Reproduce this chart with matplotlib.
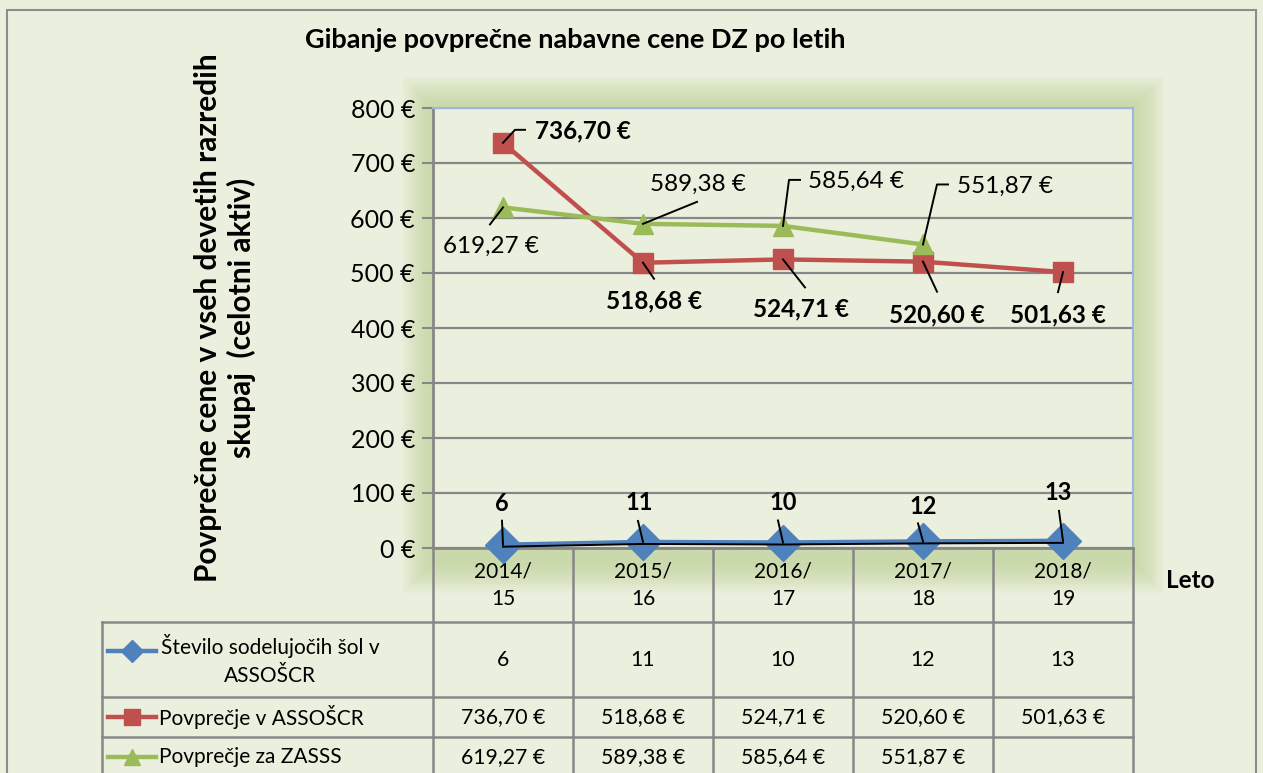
import matplotlib
matplotlib.use('Agg')
import matplotlib.pyplot as plt
from matplotlib.lines import Line2D
from matplotlib.patches import Rectangle
from matplotlib import transforms

plt.rcParams['font.family'] = ['Lato', 'DejaVu Sans']

years = ['2014/\n15', '2015/\n16', '2016/\n17', '2017/\n18', '2018/\n19']
schools = [6, 11, 10, 12, 13]
avg_assoscr = [736.70, 518.68, 524.71, 520.60, 501.63]
avg_zasss = [619.27, 589.38, 585.64, 551.87]

row_names = ['Število sodelujočih šol v\nASSOŠCR', 'Povprečje v ASSOŠCR', 'Povprečje za ZASSS']

title = 'Gibanje povprečne nabavne cene DZ po letih'
ylabel = 'Povprečne cene v vseh devetih razredih\nskupaj  (celotni aktiv)'
xlabel = 'Leto'

BG = '#EBF0DE'
GLOW = '#BFD398'
GRID = '#878787'
BLUE = '#4F81BD'
RED = '#C0504D'
GREEN = '#9BBB59'

W, H = 1263, 773


def eur(v):
    return f'{v:.2f}'.replace('.', ',') + ' €'


def fx(px):
    return px / W


def fy(py):
    return 1 - py / H


fig = plt.figure(figsize=(W / 100, H / 100), dpi=100, facecolor=BG)
ax = fig.add_axes([fx(433), fy(548), fx(1133) - fx(433), fy(108) - fy(548)])
ax.set_facecolor(BG)

# outer chart border
fig.add_artist(Rectangle((fx(7), fy(800)), fx(1256) - fx(7), fy(10) - fy(800),
                         transform=fig.transFigure, fill=False, ec='#8C8C8C', lw=1.5, zorder=0))

# soft glow round the plot area
for k in range(14):
    d = 2.2 * (k + 1)
    fig.add_artist(Rectangle((fx(433 - d), fy(562 + d)), fx(1133 + d) - fx(433 - d),
                             fy(108 - d) - fy(562 + d), transform=fig.transFigure,
                             fc=GLOW, ec='none', alpha=0.075, zorder=-5))

x = list(range(len(years)))
ax.plot(x, avg_assoscr, color=RED, lw=3.2, marker='s', ms=14.5, zorder=4)
ax.plot(x[:len(avg_zasss)], avg_zasss, color=GREEN, lw=3.2, marker='^', ms=15, zorder=4)
ax.plot(x, schools, color=BLUE, lw=3.2, marker='D', ms=18, zorder=5, clip_on=False)
# excel leader artefact along the blue line
shift = transforms.offset_copy(ax.transData, fig=fig, x=0, y=-2, units='dots')
ax.plot(x, schools, color='black', lw=1.4, transform=shift, zorder=6, clip_on=False)

ax.set_xlim(-0.5, len(years) - 0.5)
ax.set_ylim(0, 800)
ax.set_yticks(range(0, 801, 100))
ax.set_yticklabels([f'{v} €' for v in range(0, 801, 100)], fontsize=18)
ax.set_xticks([])
ax.tick_params(axis='y', length=8, width=1.5, color=GRID, pad=5)
ax.yaxis.grid(True, color=GRID, lw=1.6)
ax.set_axisbelow(True)
for s in ('left', 'bottom'):
    ax.spines[s].set_color(GRID)
    ax.spines[s].set_linewidth(2)
for s in ('top', 'right'):
    ax.spines[s].set_color('#9DB8DC')
    ax.spines[s].set_linewidth(1.5)

px2pt = 0.72


def label(i, v, text, dx, dy, leader, bold, ha='left', size=None):
    if size is None:
        size = 17.5 if bold else 17.5
    ax.annotate(text, (i, v), xytext=(dx * px2pt, -dy * px2pt), textcoords='offset points',
                ha=ha, va='center', fontsize=size,
                fontweight='bold' if bold else 'normal', zorder=7, annotation_clip=False)
    pts = [(0, 0)] + leader
    xs = [p[0] for p in pts]
    ys = [p[1] for p in pts]
    base = ax.transData.transform((i, v))
    fig.add_artist(Line2D([(base[0] + a) / W for a in xs], [(base[1] - b) / H for b in ys],
                          transform=fig.transFigure, color='black', lw=1.4, zorder=8))


# label offsets and leader paths, in pixels from the point
red_offsets = [(32, -12, [(12, -13), (22, -13)], 'left'),
               (11, 38, [(11, 16)], 'center'),
               (18, 50, [(22, 28)], 'center'),
               (14, 53, [(14, 30)], 'center'),
               (-5, 43, [(-5, 20)], 'center')]
for i, v in enumerate(avg_assoscr):
    dx, dy, ld, ha = red_offsets[i]
    label(i, v, eur(v), dx, dy, ld, True, ha)

green_offsets = [(-60, 39, [(-13, 17)], 'left'),
                 (7, -39, [(54, -22)], 'left'),
                 (25, -45, [(6, -46), (17, -46)], 'left'),
                 (34, -58, [(14, -60), (25, -60)], 'left')]
for i, v in enumerate(avg_zasss):
    dx, dy, ld, ha = green_offsets[i]
    label(i, v, eur(v), dx, dy, ld, False, ha)

blue_offsets = [(-1, -41, [(-1, -24)]), (-4, -39, [(-5, -21)]), (0, -40, [(-5, -22)]),
                (0, -35, [(-5, -18)]), (-5, -48, [(-4, -30)])]
for i, v in enumerate(schools):
    dx, dy, ld = blue_offsets[i]
    label(i, v, str(v), dx, dy, ld, True, 'center', size=17)

# data table under the axis
bt = transforms.blended_transform_factory(ax.transData, fig.transFigure)
for k in range(len(years) + 1):
    fig.add_artist(Line2D([k - 0.5, k - 0.5], [fy(548), fy(780)], transform=bt,
                          color=GRID, lw=1.8, zorder=3))
for py in (622, 697, 737):
    fig.add_artist(Line2D([fx(102), fx(1133)], [fy(py), fy(py)], transform=fig.transFigure,
                          color=GRID, lw=1.8, zorder=3))
fig.add_artist(Line2D([fx(102), fx(102)], [fy(622), fy(780)], transform=fig.transFigure,
                      color=GRID, lw=1.8, zorder=3))

for i, yr in enumerate(years):
    ax.text(i, fy(585), yr, transform=bt, ha='center', va='center', fontsize=15,
            linespacing=1.45, clip_on=False)

rows_y = [660, 717, 757]
row_vals = [[str(v) for v in schools],
            [eur(v) for v in avg_assoscr],
            [eur(v) for v in avg_zasss] + [''] * (len(years) - len(avg_zasss))]
row_style = [(BLUE, 'D', 11), (RED, 's', 11), (GREEN, '^', 12)]
for r, name in enumerate(row_names):
    py = rows_y[r]
    c, m, ms = row_style[r]
    my = py - 9 if r == 0 else py
    fig.add_artist(Line2D([fx(108), fx(156)], [fy(my)] * 2,
                          transform=fig.transFigure, color=c, lw=3.2, zorder=4))
    fig.add_artist(Line2D([fx(132)], [fy(my)], marker=m, ms=ms,
                          color=c, transform=fig.transFigure, zorder=4))
    if r == 0:
        fig.text(fx(270), fy(py), name, ha='center', va='center', fontsize=15, linespacing=1.45)
    else:
        fig.text(fx(159), fy(py), name, ha='left', va='center', fontsize=15)
    for i, val in enumerate(row_vals[r]):
        ax.text(i, fy(py), val, transform=bt, ha='center', va='center', fontsize=15.3,
                clip_on=False)

fig.text(fx(305), fy(40), title, ha='left', va='center', fontsize=19.5, fontweight='bold')
fig.text(fx(225), fy(318), ylabel, ha='center', va='center', rotation=90, fontsize=21.5,
         fontweight='bold', linespacing=1.2)
fig.text(fx(1190), fy(580), xlabel, ha='center', va='center', fontsize=17.5, fontweight='bold')

fig.savefig('out.png', dpi=100, facecolor=BG)
